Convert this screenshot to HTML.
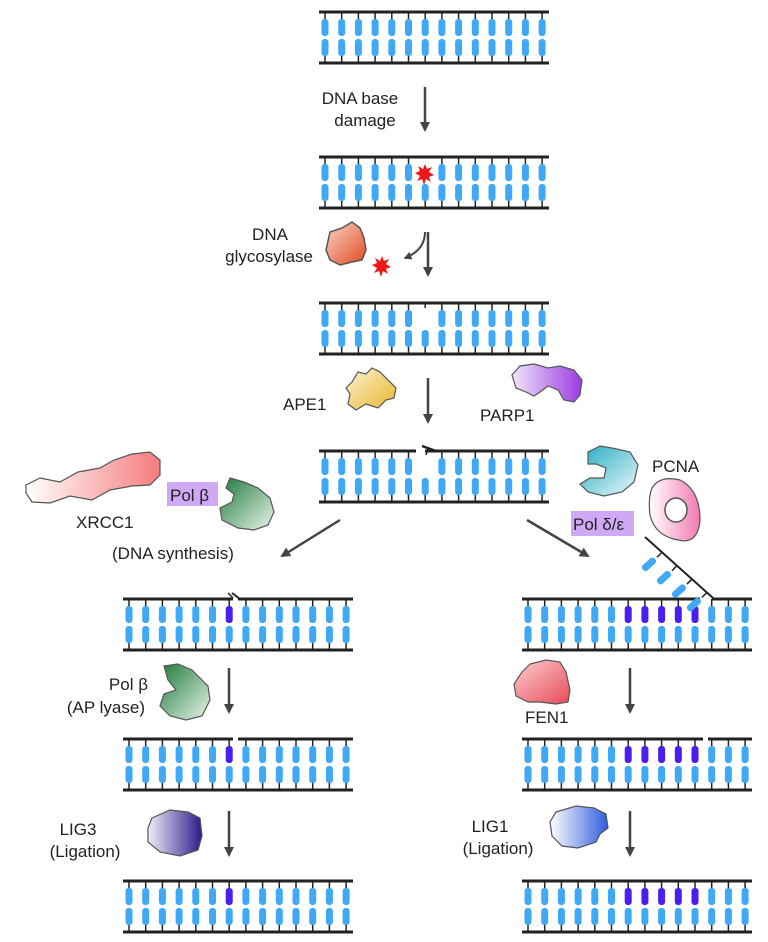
<!DOCTYPE html>
<html><head><meta charset="utf-8"><style>
html,body{margin:0;padding:0;background:#fff;}
svg{display:block;}
text{font-family:"Liberation Sans",Arial,sans-serif;font-size:17px;fill:#222;}
</style></head><body>
<svg id="s" width="768" height="942" viewBox="0 0 768 942" xmlns="http://www.w3.org/2000/svg">
<defs>
<marker id="ah" viewBox="0 0 10 10" refX="8" refY="5" markerWidth="4" markerHeight="4" orient="auto"><path d="M0,0 L10,5 L0,10 z" fill="#444"/></marker>
<linearGradient id="gRed" x1="0" y1="0" x2="1" y2="1"><stop offset="0" stop-color="#fbd5c8"/><stop offset="1" stop-color="#e04a20"/></linearGradient>
<linearGradient id="gYel" x1="1" y1="1" x2="0" y2="0"><stop offset="0" stop-color="#eab330"/><stop offset="1" stop-color="#fdf3d0"/></linearGradient>
<linearGradient id="gPur" x1="0" y1="0" x2="1" y2="0"><stop offset="0" stop-color="#f2e6fb"/><stop offset="1" stop-color="#9a3be0"/></linearGradient>
<linearGradient id="gPink" x1="0" y1="0" x2="1" y2="0"><stop offset="0" stop-color="#fff"/><stop offset="1" stop-color="#f57c7c"/></linearGradient>
<linearGradient id="gGrn" x1="0" y1="0" x2="1" y2="1"><stop offset="0" stop-color="#1e7a3a"/><stop offset="1" stop-color="#eaf5ec"/></linearGradient>
<linearGradient id="gCy" x1="0" y1="0" x2="1" y2="1"><stop offset="0" stop-color="#22a9c0"/><stop offset="1" stop-color="#eefafc"/></linearGradient>
<linearGradient id="gPcna" x1="0" y1="0" x2="1" y2="0"><stop offset="0" stop-color="#fff"/><stop offset="1" stop-color="#f27ab0"/></linearGradient>
<linearGradient id="gFen" x1="0" y1="0" x2="1" y2="1"><stop offset="0" stop-color="#fbd0d0"/><stop offset="1" stop-color="#e84a58"/></linearGradient>
<linearGradient id="gLig3" x1="0" y1="0" x2="1" y2="0"><stop offset="0" stop-color="#f0eef8"/><stop offset="1" stop-color="#2a1a8a"/></linearGradient>
<linearGradient id="gLig1" x1="0" y1="0" x2="1" y2="0"><stop offset="0" stop-color="#fff"/><stop offset="1" stop-color="#2f5ce0"/></linearGradient>
</defs>
<g id="dna"></g>

<g stroke="#444" stroke-width="2.5" fill="none" marker-end="url(#ah)">
<line x1="425" y1="87" x2="425" y2="130"/>
<line x1="428" y1="232" x2="428" y2="275"/>
<line x1="428" y1="378" x2="428" y2="422"/>
<line x1="340" y1="520" x2="282" y2="556"/>
<line x1="527" y1="520" x2="588" y2="556"/>
<line x1="229" y1="668" x2="229" y2="712"/>
<line x1="229" y1="811" x2="229" y2="855"/>
<line x1="630" y1="668" x2="630" y2="712"/>
<line x1="630" y1="811" x2="630" y2="855"/>
</g>
<path d="M425,232 Q425,250 405,258" stroke="#444" stroke-width="2" fill="none" marker-end="url(#ah)"/>

<polygon points="425,164 427,169 432,167 429,172 434,175 429,177 431,182 426,179 424,185 422,179 417,181 420,176 415,173 420,171 418,166 423,169" fill="#f01818"/>
<polygon points="382,256 384,261 389,259 386,264 391,267 386,269 388,274 383,271 381,277 379,271 374,273 377,268 372,265 377,263 375,258 380,261" fill="#f01818"/>

<path d="M330,232 L342,228 L352,222 L360,228 L364,238 L366,250 L362,260 L352,262 L340,265 L330,260 L326,250 Z" fill="url(#gRed)" stroke="#555" stroke-width="1.5"/>
<path d="M352,382 L358,372 L366,374 L372,368 L380,372 L388,380 L396,388 L394,398 L386,400 L378,408 L366,404 L356,410 L348,404 L350,394 L346,388 Z" fill="url(#gYel)" stroke="#555" stroke-width="1.2"/>
<path d="M512,375 L520,366 L534,364 L548,368 L560,366 L574,370 L582,380 L580,395 L574,402 L564,400 L558,390 L548,386 L540,392 L534,396 L526,392 L516,388 Z" fill="url(#gPur)" stroke="#555" stroke-width="1.2"/>
<path d="M26,485 L40,478 L60,482 L78,472 L100,468 L114,460 L132,454 L150,452 L160,460 L160,475 L150,485 L132,486 L110,490 L92,500 L70,496 L50,503 L32,502 L26,493 Z" fill="url(#gPink)" stroke="#555" stroke-width="1.2"/>
<path d="M230,478 L244,482 L258,488 L270,498 L274,512 L268,525 L254,530 L238,528 L222,520 L220,508 L232,502 L234,494 L226,488 Z" fill="url(#gGrn)" stroke="#555" stroke-width="1.2"/>
<path d="M588,452 L600,446 L612,448 L630,452 L638,465 L634,482 L622,492 L604,496 L588,492 L580,484 L590,478 L604,478 L606,468 L596,464 L588,464 Z" fill="url(#gCy)" stroke="#555" stroke-width="1.2"/>
<path d="M652,488 Q660,475 680,480 Q700,490 700,520 Q698,545 678,540 Q655,536 650,515 Q648,498 652,488 Z" fill="url(#gPcna)" stroke="#555" stroke-width="1.2"/>
<ellipse cx="676" cy="510" rx="11" ry="12" fill="#fff" stroke="#555" stroke-width="1.5"/>
<path d="M164,666 L178,664 L192,670 L200,678 L208,686 L210,700 L202,716 L186,720 L170,716 L160,706 L164,694 L176,690 L168,680 Z" fill="url(#gGrn)" stroke="#555" stroke-width="1.2"/>
<path d="M522,672 L530,664 L546,660 L560,662 L566,672 L570,690 L568,702 L556,704 L540,702 L528,702 L516,696 L514,684 Z" fill="url(#gFen)" stroke="#555" stroke-width="1.2"/>
<path d="M152,818 L170,810 L188,812 L200,818 L202,836 L198,850 L180,856 L160,852 L148,842 L148,828 Z" fill="url(#gLig3)" stroke="#555" stroke-width="1.2"/>
<path d="M556,812 L576,806 L594,808 L606,814 L608,828 L600,834 L596,842 L578,848 L562,846 L552,836 L550,822 Z" fill="url(#gLig1)" stroke="#555" stroke-width="1.2"/>

<rect x="167" y="482" width="51" height="24" fill="#cfa9f5"/>
<rect x="571" y="511" width="63" height="25" fill="#cfa9f5"/>

<text x="360" y="104" text-anchor="middle">DNA base</text>
<text x="365" y="126" text-anchor="middle">damage</text>
<text x="270" y="240" text-anchor="middle">DNA</text>
<text x="313" y="262" text-anchor="end">glycosylase</text>
<text x="283" y="410">APE1</text>
<text x="480" y="421">PARP1</text>
<text x="76" y="528">XRCC1</text>
<text x="170" y="501">Pol β</text>
<text x="112" y="559">(DNA synthesis)</text>
<text x="652" y="472">PCNA</text>
<text x="573" y="530">Pol δ/ε</text>
<text x="148" y="690" text-anchor="end">Pol β</text>
<text x="145" y="713" text-anchor="end">(AP lyase)</text>
<text x="525" y="723">FEN1</text>
<text x="78" y="835" text-anchor="middle">LIG3</text>
<text x="85" y="857" text-anchor="middle">(Ligation)</text>
<text x="490" y="832" text-anchor="middle">LIG1</text>
<text x="498" y="854" text-anchor="middle">(Ligation)</text>
</svg>
<script>
var g=document.getElementById('dna'),NS='http://www.w3.org/2000/svg';
function el(t,a){var e=document.createElementNS(NS,t);for(var k in a)e.setAttribute(k,a[k]);g.appendChild(e);return e;}
function line(x1,y1,x2,y2,w){el('line',{x1:x1,y1:y1,x2:x2,y2:y2,stroke:'#222','stroke-width':w||3});}
var BL='#3fa9f5',PU='#4a1df0';
function dna(x0,y,o){
  o=o||{};var L=230,sp=16.7,c0=x0+6;
  var gaps=o.gaps||[];
  var segs=[[x0,x0+L]];
  gaps.forEach(function(gp){var n=[];segs.forEach(function(s){if(gp[1]<=s[0]||gp[0]>=s[1])n.push(s);else{if(gp[0]>s[0])n.push([s[0],gp[0]]);if(gp[1]<s[1])n.push([gp[1],s[1]]);}});segs=n;});
  segs.forEach(function(s){line(s[0],y,s[1],y);});
  line(x0,y+51,x0+L,y+51);
  for(var i=0;i<14;i++){
    var cx=c0+i*sp;
    var top=!(o.skip===i);
    if(top){line(cx,y,cx,y+7,1.5);
      el('rect',{x:cx-3.5,y:y+7,width:7,height:17,rx:3,fill:(o.purple&&o.purple.indexOf(i)>=0)?PU:BL});}
    else if(o.tick) line(cx,y,cx,y+5,1.5);
    el('rect',{x:cx-3.5,y:y+27,width:7,height:17,rx:3,fill:BL});
    line(cx,y+44,cx,y+51,1.5);
  }
}
dna(319,12);
dna(319,157,{skip:6});
dna(319,303,{skip:6,tick:1});
dna(319,451,{skip:6,gaps:[[416,425]]});
line(422,446,436,451,2.5);line(428,448,426,455,1.5);
dna(123,599,{purple:[6],gaps:[[233,238]]});
line(232,593,240,599,2);line(233,598,228,593,1.5);
dna(123,739,{purple:[6],gaps:[[233,238]]});
dna(123,881,{purple:[6]});
dna(522,599,{purple:[6,7,8,9,10],gaps:[[700,712]]});
dna(522,739,{purple:[6,7,8,9,10],gaps:[[703,708]]});
dna(522,881,{purple:[6,7,8,9,10]});
line(645,537,713,598,2);
for(var k=0;k<4;k++){var t=0.25+k*0.22,px=645+68*t,py=537+61*t;
  line(px,py,px-5,py+5,1.5);
  var r=el('rect',{x:-3.5,y:-8,width:7,height:16,rx:3,fill:BL});
  r.setAttribute('transform','translate('+(px-13)+','+(py+12)+') rotate(48)');}
</script>
</body></html>
